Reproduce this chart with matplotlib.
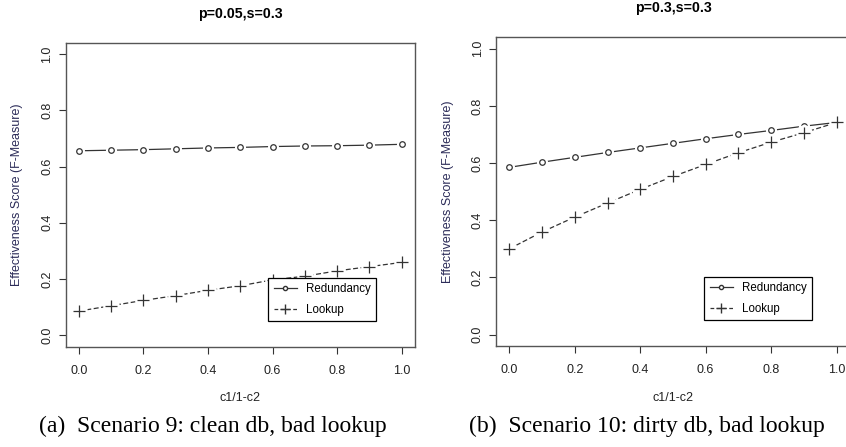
import numpy as np
import matplotlib.pyplot as plt

plt.rcParams['font.family'] = ['Liberation Sans', 'DejaVu Sans']

# data
X = [0.0, 0.1, 0.2, 0.3, 0.4, 0.5, 0.6, 0.7, 0.8, 0.9, 1.0]

RED_A = [0.656, 0.658, 0.660, 0.663, 0.666, 0.668, 0.671, 0.673, 0.674, 0.676, 0.679]
LOOK_A = [0.086, 0.105, 0.124, 0.141, 0.160, 0.176, 0.197, 0.210, 0.229, 0.244, 0.259]

RED_B = [0.585, 0.603, 0.620, 0.637, 0.653, 0.669, 0.685, 0.700, 0.714, 0.729, 0.742]
LOOK_B = [0.300, 0.359, 0.411, 0.460, 0.508, 0.553, 0.595, 0.636, 0.673, 0.706, 0.742]

TICKS = [0.0, 0.2, 0.4, 0.6, 0.8, 1.0]
TITLES = ["p=0.05,s=0.3", "p=0.3,s=0.3"]
CAPTIONS = ["(a)  Scenario 9: clean db, bad lookup", "(b)  Scenario 10: dirty db, bad lookup"]

LINE_COL = '#333333'
FRAME_COL = '#555555'


def draw_series(ax, x, y, marker, ls, ms):
    ax.plot(x, y, color=LINE_COL, lw=0.9, ls=ls, dashes=(4, 2) if ls == '--' else (None, None))
    # white halo under the markers gives the R type="b" gaps
    ax.plot(x, y, ls='none', marker='o', ms=ms + 4, mfc='white', mec='none')
    ax.plot(x, y, ls='none', marker=marker, ms=ms, mfc='white', mec=LINE_COL, mew=0.9)


def panel(ax, red, look, title, caption, title_y, ylab_x, leg_x, cap_x):
    draw_series(ax, X, red, 'o', '-', 4.0)
    draw_series(ax, X, look, '+', '--', 8)

    ax.set_xlim(-0.04, 1.04)
    ax.set_ylim(-0.04, 1.04)
    ax.set_xticks(TICKS)
    ax.set_yticks(TICKS)
    ax.set_xticklabels([f"{t:.1f}" for t in TICKS], fontsize=9, color='#222222')
    ax.set_yticklabels([f"{t:.1f}" for t in TICKS], fontsize=9, color='#222222',
                       rotation=90, va='center')
    ax.tick_params(length=5, width=0.8, color='#333333')
    ax.tick_params(axis='x', pad=8)
    ax.tick_params(axis='y', pad=4)
    for sp in ax.spines.values():
        sp.set_color(FRAME_COL)
        sp.set_linewidth(1.0)

    h1, = ax.plot([], [], color=LINE_COL, lw=0.9, marker='o', ms=3, mfc='white', mec=LINE_COL)
    h2, = ax.plot([], [], color=LINE_COL, lw=0.9, ls='--', dashes=(3, 2), marker='+', ms=7)
    leg = ax.legend([h1, h2], ["Redundancy", "Lookup"], loc='lower right',
                    bbox_to_anchor=(leg_x, 0.084), fontsize=8.3, fancybox=False,
                    framealpha=1, edgecolor='black', borderpad=0.45, handlelength=2.0,
                    handletextpad=0.8, labelspacing=0.75, borderaxespad=0)
    leg.get_frame().set_linewidth(0.9)

    bb = ax.get_position()
    cx = (bb.x0 + bb.x1) / 2
    fig.text(cx, title_y, title, ha='center', va='center', fontsize=10.2, fontweight='bold')
    fig.text(cx, 0.110, "c1/1-c2", ha='center', va='center', fontsize=9, color='#222222')
    fig.text(ylab_x, (bb.y0 + bb.y1) / 2, "Effectiveness Score (F-Measure)", rotation=90,
             ha='center', va='center', fontsize=9, color='#2b2b58')
    fig.text(cap_x, 0.045, caption, ha='center', va='center', fontsize=17,
             family='Liberation Serif')


fig = plt.figure(figsize=(8.46, 4.47), dpi=100)
ax1 = fig.add_axes([0.078, 0.2248, 0.412, 0.6795])
ax2 = fig.add_axes([0.5866, 0.2260, 0.4177, 0.6906])

panel(ax1, RED_A, LOOK_A, TITLES[0], CAPTIONS[0], 0.969, 17 / 846, 0.889, 213 / 846)
panel(ax2, RED_B, LOOK_B, TITLES[1], CAPTIONS[1], 0.982, 448 / 846, 0.893, 646.5 / 846)

fig.savefig('out.png', dpi=100)
